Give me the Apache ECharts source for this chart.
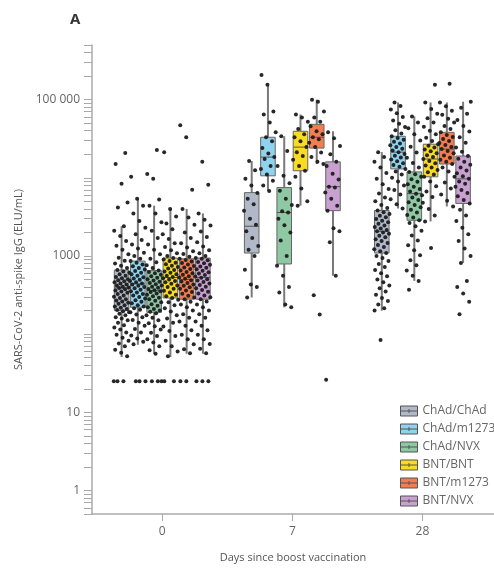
<!DOCTYPE html>
<html><head><meta charset="utf-8">
<script src="https://cdn.jsdelivr.net/npm/echarts@6/dist/echarts.min.js"></script>
<style>html,body{margin:0;padding:0;background:#fff}#c{width:494px;height:568px}</style>
</head><body><div id="c"></div>
<script>
// ---------- data ----------
const days = ['0', '7', '28'];
const groups = ['ChAd/ChAd', 'ChAd/m1273', 'ChAd/NVX', 'BNT/BNT', 'BNT/m1273', 'BNT/NVX'];
const yLabelValues = [1, 10, 1000, 100000];
const yTickValues = [0.5,0.6,0.7,0.8,0.9,1,2,3,4,5,6,7,8,9,10,20,30,40,50,60,70,80,90,100,200,300,400,500,600,700,800,900,
  1000,2000,3000,4000,5000,6000,7000,8000,9000,10000,20000,30000,40000,50000,60000,70000,80000,90000,100000,200000,300000,400000,500000];

// box statistics [min, q1, median, q3, max] for day 0, day 7, day 28
const boxChAdChAd = [[51, 200, 390, 660, 2400], [294, 1090, 2400, 6460, 16400], [200, 1090, 2070, 3820, 21300]];
const boxChAdM1273 = [[73, 220, 440, 860, 5400], [6800, 10600, 18400, 33000, 150000], [4050, 13000, 21300, 34000, 92000]];
const boxChAdNVX = [[56, 190, 360, 650, 4400], [220, 790, 3600, 7500, 34000], [480, 2860, 6270, 11900, 61000]];
const boxBNTBNT = [[51, 290, 530, 940, 4000], [4400, 12300, 24700, 39400, 64600], [2770, 10300, 17400, 26900, 92000]];
const boxBNTM1273 = [[56, 280, 500, 920, 4000], [15000, 24000, 33000, 48300, 100000], [4300, 15000, 23300, 38200, 92000]];
const boxBNTNVX = [[56, 280, 530, 940, 3500], [560, 3800, 7700, 16000, 39400], [815, 4700, 9700, 19000, 94000]];

// individual participant values for day 0, day 7, day 28
const ptsChAdChAd = [
  [25,25,25,52,58,63,70,76,82,90,98,105,115,122,130,140,150,158,165,175,182,190,196,204,210,218,226,235,244,252,262,270,280,290,300,312,325,338,350,362,375,388,396,405,418,430,445,460,475,490,505,520,540,560,585,610,635,660,700,750,800,870,950,1050,1200,1350,1550,1800,2100,2400,4170,4830,8400,15000,20700],
  [294,400,430,665,1000,1200,1340,1700,2070,2500,3000,3800,4600,5400,6400,8000,9700,12500,16400],
  [84,200,215,240,265,290,320,350,385,420,460,500,550,600,660,720,790,860,940,1000,1090,1150,1220,1300,1380,1460,1550,1640,1730,1820,1920,2000,2070,2150,2250,2350,2460,2580,2700,2830,2970,3120,3280,3450,3620,3820,4100,4500,5000,5600,6300,7200,8300,9700,11500,13500,16000,18500,21300]
];
const ptsChAdM1273 = [
  [25,25,25,74,80,88,96,105,116,128,140,152,165,178,190,205,215,225,235,248,260,272,285,298,312,326,340,355,370,385,400,415,430,445,460,478,495,515,535,560,585,610,640,670,700,740,780,820,860,920,1000,1100,1250,1400,1600,1900,2300,2800,3500,4400,5400,10300],
  [6800,8000,9200,11000,13000,14200,17400,18400,20500,24000,29400,33000,38200,51000,64600,70500,155000,207000],
  [4050,4600,5300,6100,7000,8000,9000,10000,11000,12000,13000,13800,14600,15400,16300,17200,18200,19200,20200,21300,22400,23600,24800,26100,27500,29000,30600,32300,34000,37000,40500,44500,49000,54000,60000,67000,75000,83000,92000]
];
const ptsChAdNVX = [
  [25,25,25,56,62,70,78,86,95,104,115,126,138,150,162,175,185,193,200,210,220,230,242,255,268,280,292,305,318,330,345,355,365,378,392,405,420,435,450,468,485,505,525,550,575,600,625,650,700,760,830,920,1050,1200,1400,1700,2100,2700,3500,4400,5270,9700,11200,22600],
  [220,240,340,400,560,750,1000,1580,2000,2470,3000,3600,3720,4500,5400,6840,8500,10600,14200,22000,34000],
  [370,480,560,650,760,880,1020,1180,1370,1580,1830,2100,2400,2650,2860,3100,3350,3600,3900,4200,4500,4850,5200,5600,6000,6270,6700,7200,7700,8300,8900,9600,10300,11100,11900,13500,15500,18000,21000,25000,30000,36000,43000,51000,61000]
];
const ptsBNTBNT = [
  [25,25,52,60,70,82,95,110,125,140,158,175,195,215,235,255,275,290,305,320,340,360,380,400,420,440,460,480,500,520,540,560,585,610,635,660,690,720,750,785,820,860,900,940,1000,1080,1180,1300,1450,1650,1900,2200,2600,3200,4000,21300],
  [4400,5000,7300,10300,12300,14200,17000,19000,21300,24700,29400,33000,36200,42000,52000,59000,64600],
  [1260,2770,3300,4000,4800,5700,6700,7800,9000,10300,11000,11800,12600,13500,14400,15400,16400,17400,18400,19500,20600,21800,23100,24500,25800,26900,29500,32500,36000,40000,45000,51000,58000,66000,76000,92000,155000]
];
const ptsBNTM1273 = [
  [25,25,57,64,74,86,98,112,128,145,162,180,200,220,240,260,280,295,310,328,345,362,380,398,415,432,450,470,490,510,530,552,575,600,625,650,680,710,745,780,815,850,885,920,980,1060,1150,1280,1450,1700,2000,2500,3100,4000,7050,33000,46900],
  [178,315,15000,16000,18400,21000,24700,28000,31200,33000,36000,39400,45500,52000,59000,70500,94000,100000],
  [4300,5100,6100,7300,8700,10300,12000,13500,15000,16000,17000,18100,19300,20600,22000,23300,24700,26200,27800,29500,31300,33200,35200,38200,42000,46000,51000,57000,64000,72000,82000,92000,160000]
];
const ptsBNTNVX = [
  [25,25,25,57,65,75,86,98,112,128,145,162,180,200,220,240,262,280,296,312,330,348,366,385,405,425,445,465,485,505,525,548,570,595,620,648,676,705,735,770,805,840,880,920,940,1000,1080,1180,1320,1500,1750,2050,2450,2900,3500,8150,16000],
  [26,560,1500,2070,2270,3800,4400,5400,6500,7500,7700,9500,11300,14200,16000,20000,25500,32000,38200],
  [180,260,330,400,480,815,1000,1250,1550,1900,2300,2800,3300,3900,4700,5200,5800,6400,7000,7700,8400,9000,9700,10500,11400,12400,13500,14700,16000,17500,19000,21500,24500,28000,33000,39000,46000,55000,66000,79000,94000]
];

// ---------- styling ----------
const colors = ['#b1b9c9', '#8fd3ef', '#8fc9a4', '#f9dc1f', '#f57c50', '#c9a1d1'];
const boxes = [boxChAdChAd, boxChAdM1273, boxChAdNVX, boxBNTBNT, boxBNTM1273, boxBNTNVX];
const points = [ptsChAdChAd, ptsChAdM1273, ptsChAdNVX, ptsBNTBNT, ptsBNTM1273, ptsBNTNVX];
const FONT = '"Open Sans", "DejaVu Sans", sans-serif';
const STEP = 0.125, HALF = 0.056, JIT = 0.12;

const series = [];
groups.forEach((g, gi) => {
  const off = (gi - 2.5) * STEP;
  series.push({
    name: g,
    type: 'custom',
    z: 2,
    itemStyle: { color: colors[gi] },
    encode: { x: 0, y: [1, 2, 3, 4, 5] },
    data: boxes[gi].map((b, di) => [di].concat(b)),
    renderItem: (params, api) => {
      const x = api.value(0) + off;
      const pMin = api.coord([x, api.value(1)]);
      const pQ1 = api.coord([x, api.value(2)]);
      const pMed = api.coord([x, api.value(3)]);
      const pQ3 = api.coord([x, api.value(4)]);
      const pMax = api.coord([x, api.value(5)]);
      const l = api.coord([x - HALF, api.value(3)])[0];
      const r = api.coord([x + HALF, api.value(3)])[0];
      return {
        type: 'group',
        children: [
          { type: 'line', shape: { x1: pMin[0], y1: pMin[1], x2: pQ1[0], y2: pQ1[1] }, style: { stroke: '#7a7a7a', lineWidth: 2 } },
          { type: 'line', shape: { x1: pQ3[0], y1: pQ3[1], x2: pMax[0], y2: pMax[1] }, style: { stroke: '#7a7a7a', lineWidth: 2 } },
          { type: 'rect', shape: { x: l, y: pQ3[1], width: r - l, height: pQ1[1] - pQ3[1] }, style: { fill: colors[gi], stroke: '#666', lineWidth: 1 } },
          { type: 'line', shape: { x1: l, y1: pMed[1], x2: r, y2: pMed[1] }, style: { stroke: '#555', lineWidth: 1 } }
        ]
      };
    }
  });
  const data = [];
  points[gi].forEach((vals, di) => {
    vals.forEach((v, j) => {
      const jitter = (((j * 0.6180339887 + gi * 0.37 + di * 0.21) % 1) - 0.5) * JIT;
      data.push([di + off + jitter, v]);
    });
  });
  series.push({
    name: 'pts ' + g,
    type: 'scatter',
    z: 3,
    symbolSize: 4,
    itemStyle: { color: '#1c1c1c', opacity: 0.95 },
    silent: true,
    data: data
  });
});

const chart = echarts.init(document.getElementById('c'), null, { renderer: 'canvas' });
chart.setOption({
  animation: false,
  backgroundColor: '#fff',
  textStyle: { fontFamily: FONT },
  grid: { left: 92, top: 45, width: 411, height: 473, containLabel: false },
  xAxis: {
    type: 'value', min: -0.54, max: 2.55,
    name: 'Days since boost vaccination', nameLocation: 'middle', nameGap: 38,
    nameTextStyle: { fontSize: 11, color: '#555', fontFamily: FONT },
    axisLine: { show: true, onZero: false, lineStyle: { color: '#aaa', width: 1.5 } },
    axisTick: { show: true, customValues: [0, 1, 2], length: 7, lineStyle: { color: '#aaa' } },
    axisLabel: { customValues: [0, 1, 2], formatter: v => days[Math.round(v)], fontSize: 12, color: '#666', margin: 12, fontFamily: FONT },
    splitLine: { show: false }
  },
  yAxis: {
    type: 'log', logBase: 10, min: 0.5, max: 500000,
    name: 'SARS-CoV-2 anti-spike IgG (ELU/mL)', nameLocation: 'middle', nameGap: 68,
    nameTextStyle: { fontSize: 11, color: '#555', fontFamily: FONT },
    axisLine: { show: true, onZero: false, lineStyle: { color: '#aaa', width: 1.5 } },
    axisTick: { show: true, customValues: yTickValues, length: 8, lineStyle: { color: '#aaa' } },
    axisLabel: {
      customValues: yLabelValues, fontSize: 12, color: '#666', margin: 12, fontFamily: FONT,
      formatter: v => { const s = String(Math.round(v)); return v >= 10000 ? s.slice(0, s.length - 3) + ' ' + s.slice(-3) : s; }
    },
    splitLine: { show: false }
  },
  legend: {
    data: groups, orient: 'vertical', left: 395, top: 400,
    itemWidth: 17, itemHeight: 10, itemGap: 6, selectedMode: false,
    icon: 'path://M0,0H17V10H0ZM0,5H17M8.5,3V7',
    itemStyle: { borderColor: '#555', borderWidth: 1 },
    textStyle: { fontSize: 12, color: '#666', fontFamily: FONT }
  },
  graphic: [
    { type: 'text', left: 70, top: 12, style: { text: 'A', font: 'bold 15px ' + FONT, fill: '#333' } }
  ],
  series: series
});
</script>
</body></html>
